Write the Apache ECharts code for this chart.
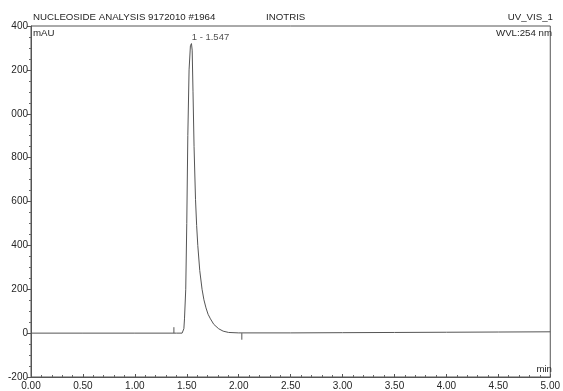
<!DOCTYPE html>
<html>
<head>
<meta charset="utf-8">
<script src="https://cdn.jsdelivr.net/npm/echarts@6/dist/echarts.min.js"></script>
<style>html,body{margin:0;padding:0;background:#fff}#c{width:563px;height:391px}</style>
</head>
<body>
<div id="c"></div>
<script>
// ---- data ----
var times  = [0.00, 0.50, 1.00, 1.40, 1.455, 1.465, 1.472, 1.478, 1.490, 1.500, 1.510, 1.522, 1.535, 1.545, 1.552, 1.560, 1.570, 1.584, 1.595, 1.606, 1.625, 1.647, 1.665, 1.685, 1.705, 1.728, 1.760, 1.807, 1.850, 1.903, 2.00, 2.50, 3.00, 3.50, 4.00, 4.50, 5.00];
var signal = [0, 0, 0, 0, 0, 8, 20, 65, 200, 500, 900, 1200, 1310, 1320, 1290, 1100, 850, 610, 490, 400, 285, 200, 152, 115, 86, 65, 40, 20, 9, 3, 1, 1, 2, 3, 4, 5, 6];
var peakTimes  = [1.545];
var peakValues = [1320];
var peakLabels = ['1 - 1.547'];
var markerStart = [[1.376, 0], [1.376, 27]];
var markerEnd   = [[2.03, 0], [2.03, -30]];
var xTickLabels = ['0.00','0.50','1.00','1.50','2.00','2.50','3.00','3.50','4.00','4.50','5.00'];
var yTickValues = [-200, 0, 200, 400, 600, 800, 1000, 1200, 1400];
var yTickLabels = ['-200','0','200','400','600','800','000','200','400'];

var lineData = times.map(function(t, i){ return [t, signal[i]]; });
var peakData = peakTimes.map(function(t, i){ return [t, peakValues[i]]; });

var chart = echarts.init(document.getElementById('c'));
var font = 'Liberation Sans, Arial, sans-serif';
var ink = '#262626';
chart.setOption({
  animation: false,
  backgroundColor: '#fff',
  grid: { left: 31, right: 10, top: 26, bottom: 13, show: true, borderColor: '#555', borderWidth: 1 },
  xAxis: {
    type: 'value', min: 0, max: 5, interval: 0.5,
    axisLine: { show: true, onZero: false, lineStyle: { color: '#555' } },
    axisTick: { show: true, inside: true, length: 3, lineStyle: { color: '#555' } },
    minorTick: { show: true, splitNumber: 5, length: 2, lineStyle: { color: '#666' } },
    splitLine: { show: false },
    axisLabel: { color: ink, fontFamily: font, fontSize: 10, margin: 4,
      formatter: function(v){ return xTickLabels[Math.round(v / 0.5)]; } }
  },
  yAxis: {
    type: 'value', min: -200, max: 1400, interval: 200,
    axisLine: { show: true, onZero: false, lineStyle: { color: '#555' } },
    axisTick: { show: true, length: 4, lineStyle: { color: '#555' } },
    minorTick: { show: true, splitNumber: 4, length: 2, lineStyle: { color: '#666' } },
    splitLine: { show: false },
    axisLabel: { color: ink, fontFamily: font, fontSize: 10, margin: 3,
      formatter: function(v){ return yTickLabels[yTickValues.indexOf(v)]; } }
  },
  series: [
    { type: 'line', data: lineData, showSymbol: false, lineStyle: { color: '#555', width: 1 }, z: 3 },
    { type: 'line', data: markerStart, showSymbol: false, lineStyle: { color: '#555', width: 1 } },
    { type: 'line', data: markerEnd, showSymbol: false, lineStyle: { color: '#555', width: 1 } },
    { type: 'scatter', data: peakData, symbolSize: 0,
      label: { show: true, position: 'top', offset: [19, 4], color: ink, fontFamily: font, fontSize: 9.5,
        formatter: function(p){ return peakLabels[p.dataIndex]; } } }
  ],
  graphic: [
    { type: 'text', left: 33, top: 12, style: { text: 'NUCLEOSIDE ANALYSIS 9172010 #1964', fill: ink, font: '9.7px ' + font } },
    { type: 'text', left: 266, top: 12, style: { text: 'INOTRIS', fill: ink, font: '9.7px ' + font } },
    { type: 'text', right: 10, top: 12, style: { text: 'UV_VIS_1', fill: ink, font: '9.7px ' + font } },
    { type: 'text', left: 33, top: 28, style: { text: 'mAU', fill: ink, font: '9.7px ' + font } },
    { type: 'text', right: 11, top: 28, style: { text: 'WVL:254 nm', fill: ink, font: '9.7px ' + font } },
    { type: 'text', right: 11, top: 364, style: { text: 'min', fill: ink, font: '9.7px ' + font } }
  ]
});
</script>
</body>
</html>
